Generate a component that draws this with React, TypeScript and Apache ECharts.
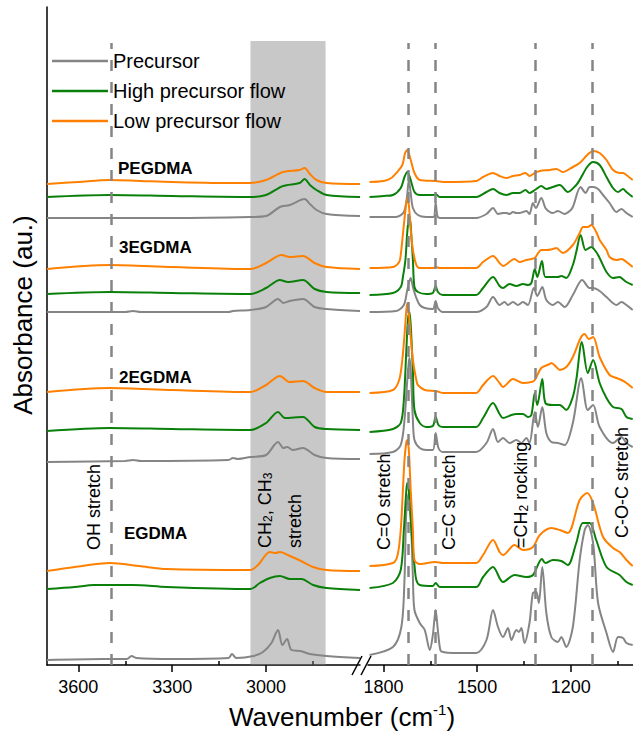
import React, { useEffect, useRef } from "react";
import * as echarts from "echarts";

const FONT = '"Liberation Sans", Arial, Helvetica, sans-serif';

// ---------- tick values ----------
const MAJOR_CH = [3600, 3300, 3000];
const MINOR_CH = [3450, 3150, 2850];
const MAJOR_FP = [1800, 1500, 1200];
const MINOR_FP = [1650, 1350, 1050];

// ---------- legend / series names ----------
const CONDITIONS = ["Precursor", "High precursor flow", "Low precursor flow"];
const COLORS = ["#858585", "#0a800a", "#ff8000"];

// ---------- marker wavenumbers ----------
const CH_BAND = [3050, 2810];
const OH_LINE = 3496;
const FP_LINES = [1720, 1633, 1314, 1132];
const BAND_TOP = 6.24;
const DASH_TOP = 6.22;

// ---------- spectra: [wavenumber, absorbance (au, offset)] ----------
// PEGDMA
const PEG_PRE_CH = [[3700,4.47],[3300,4.47],[3050,4.48],[3000,4.49],[2956,4.58],[2924,4.60],[2877,4.66],[2860,4.61],[2839,4.55],[2807,4.51],[2700,4.49]];
const PEG_HIGH_CH = [[3700,4.68],[3500,4.70],[3300,4.69],[3050,4.68],[3000,4.70],[2946,4.79],[2893,4.82],[2877,4.86],[2860,4.80],[2839,4.75],[2807,4.70],[2700,4.68]];
const PEG_LOW_CH = [[3700,4.81],[3600,4.83],[3500,4.85],[3400,4.84],[3300,4.83],[3100,4.82],[3050,4.82],[3000,4.85],[2946,4.93],[2893,4.95],[2877,4.97],[2860,4.91],[2839,4.85],[2807,4.82],[2700,4.81]];
const PEG_PRE_FP = [[1845,4.48],[1760,4.48],[1735,4.53],[1725,4.68],[1719,4.85],[1713,4.72],[1706,4.57],[1690,4.50],[1663,4.48],[1640,4.48],[1633,4.62],[1626,4.48],[1610,4.47],[1503,4.47],[1470,4.51],[1449,4.57],[1433,4.51],[1417,4.52],[1406,4.52],[1396,4.51],[1385,4.53],[1374,4.52],[1364,4.52],[1353,4.53],[1342,4.54],[1332,4.51],[1321,4.62],[1312,4.57],[1294,4.67],[1281,4.57],[1267,4.53],[1257,4.52],[1241,4.54],[1219,4.51],[1203,4.54],[1193,4.58],[1168,4.78],[1152,4.72],[1139,4.78],[1128,4.78],[1112,4.76],[1096,4.70],[1075,4.62],[1053,4.53],[1037,4.56],[1021,4.52],[1001,4.48]];
const PEG_HIGH_FP = [[1845,4.68],[1800,4.69],[1770,4.70],[1745,4.77],[1733,4.88],[1724,4.93],[1713,4.85],[1701,4.73],[1684,4.70],[1640,4.70],[1633,4.71],[1620,4.68],[1503,4.68],[1470,4.73],[1449,4.76],[1428,4.72],[1406,4.70],[1385,4.72],[1364,4.72],[1345,4.75],[1332,4.72],[1315,4.75],[1294,4.79],[1278,4.76],[1257,4.78],[1235,4.80],[1209,4.73],[1182,4.80],[1171,4.85],[1147,4.98],[1128,5.03],[1107,5.00],[1085,4.88],[1064,4.77],[1048,4.73],[1032,4.76],[1021,4.73],[1001,4.68]];
const PEG_LOW_FP = [[1845,4.83],[1800,4.84],[1775,4.87],[1759,4.92],[1740,5.00],[1731,5.12],[1724,5.15],[1713,5.05],[1701,4.92],[1684,4.85],[1633,4.84],[1600,4.83],[1503,4.84],[1481,4.88],[1449,4.92],[1428,4.89],[1406,4.87],[1385,4.89],[1364,4.90],[1345,4.92],[1332,4.89],[1315,4.92],[1299,4.94],[1267,4.95],[1246,4.96],[1225,4.93],[1193,4.98],[1171,5.02],[1147,5.10],[1128,5.14],[1107,5.12],[1085,5.05],[1064,4.95],[1043,4.92],[1032,4.92],[1021,4.90],[1001,4.85]];

// 3EGDMA
const E3_PRE_CH = [[3700,3.53],[3450,3.53],[3425,3.54],[3400,3.53],[3120,3.53],[3106,3.54],[3050,3.55],[3000,3.58],[2962,3.66],[2945,3.62],[2924,3.64],[2882,3.66],[2845,3.58],[2807,3.56],[2700,3.54]];
const E3_HIGH_CH = [[3700,3.71],[3500,3.73],[3300,3.72],[3050,3.71],[3000,3.77],[2956,3.85],[2930,3.83],[2882,3.85],[2845,3.76],[2807,3.73],[2700,3.72]];
const E3_LOW_CH = [[3700,3.96],[3500,4.00],[3300,3.98],[3050,3.96],[3000,4.02],[2951,4.10],[2924,4.08],[2882,4.09],[2845,4.02],[2807,3.98],[2700,3.96]];
const E3_PRE_FP = [[1845,3.53],[1760,3.54],[1735,3.60],[1724,3.75],[1713,3.87],[1706,3.78],[1695,3.67],[1684,3.60],[1668,3.57],[1642,3.56],[1633,3.64],[1626,3.57],[1610,3.53],[1503,3.53],[1470,3.58],[1449,3.68],[1428,3.60],[1412,3.63],[1401,3.60],[1385,3.63],[1369,3.60],[1353,3.63],[1337,3.60],[1318,3.77],[1307,3.69],[1291,3.78],[1278,3.65],[1257,3.60],[1241,3.63],[1219,3.58],[1193,3.70],[1163,3.85],[1139,3.77],[1128,3.77],[1107,3.74],[1085,3.68],[1053,3.60],[1037,3.63],[1021,3.60],[1001,3.55]];
const E3_HIGH_FP = [[1845,3.70],[1770,3.72],[1745,3.78],[1738,3.88],[1730,4.05],[1724,4.33],[1719,4.47],[1716,4.48],[1711,4.30],[1706,4.05],[1701,3.78],[1690,3.73],[1663,3.71],[1642,3.72],[1633,3.79],[1626,3.73],[1610,3.70],[1503,3.70],[1481,3.77],[1449,3.88],[1428,3.79],[1417,3.77],[1396,3.81],[1374,3.79],[1353,3.81],[1337,3.80],[1326,3.82],[1315,3.96],[1307,3.88],[1292,4.04],[1281,3.88],[1257,3.88],[1241,3.88],[1230,3.89],[1214,3.87],[1193,4.00],[1182,4.13],[1168,4.30],[1152,4.15],[1134,4.18],[1118,4.13],[1107,4.07],[1085,3.93],[1064,3.87],[1043,3.88],[1037,3.87],[1021,3.83],[1001,3.80]];
const E3_LOW_FP = [[1845,3.97],[1770,3.98],[1750,4.03],[1745,4.10],[1735,4.40],[1728,4.60],[1724,4.67],[1719,4.60],[1713,4.35],[1706,4.15],[1695,4.00],[1684,3.97],[1640,3.97],[1633,3.98],[1620,3.97],[1503,3.97],[1481,4.03],[1449,4.09],[1428,4.02],[1417,3.99],[1380,4.06],[1364,4.03],[1342,4.05],[1326,4.06],[1315,4.07],[1294,4.15],[1278,4.15],[1257,4.16],[1246,4.17],[1225,4.12],[1193,4.20],[1171,4.32],[1160,4.38],[1145,4.38],[1134,4.40],[1118,4.33],[1107,4.25],[1085,4.15],[1075,4.08],[1053,4.05],[1037,4.06],[1021,4.03],[1001,3.98]];

// 2EGDMA
const E2_PRE_CH = [[3700,2.03],[3450,2.04],[3425,2.05],[3400,2.04],[3120,2.05],[3106,2.07],[3090,2.06],[3050,2.08],[3000,2.10],[2962,2.23],[2945,2.17],[2932,2.18],[2915,2.15],[2882,2.17],[2845,2.10],[2807,2.07],[2700,2.06]];
const E2_HIGH_CH = [[3700,2.34],[3500,2.37],[3300,2.36],[3050,2.35],[3000,2.42],[2962,2.53],[2940,2.47],[2882,2.48],[2845,2.38],[2807,2.36],[2700,2.35]];
const E2_LOW_CH = [[3700,2.73],[3500,2.77],[3300,2.75],[3050,2.73],[3000,2.80],[2956,2.89],[2924,2.83],[2882,2.84],[2845,2.77],[2807,2.73],[2700,2.73]];
const E2_PRE_FP = [[1845,2.11],[1770,2.13],[1745,2.20],[1733,2.45],[1724,2.85],[1719,3.03],[1717,3.07],[1713,2.95],[1706,2.45],[1701,2.25],[1684,2.17],[1663,2.15],[1642,2.15],[1633,2.32],[1624,2.17],[1610,2.13],[1503,2.13],[1470,2.22],[1449,2.36],[1433,2.23],[1417,2.27],[1396,2.22],[1374,2.25],[1358,2.22],[1342,2.27],[1332,2.22],[1315,2.53],[1305,2.38],[1291,2.58],[1278,2.32],[1262,2.23],[1241,2.22],[1219,2.20],[1193,2.42],[1166,2.87],[1145,2.55],[1128,2.60],[1107,2.38],[1064,2.22],[1037,2.28],[1021,2.22],[1001,2.18]];
const E2_HIGH_FP = [[1845,2.33],[1770,2.36],[1745,2.42],[1735,2.65],[1727,3.15],[1722,3.45],[1717,3.53],[1713,3.40],[1706,2.95],[1701,2.55],[1684,2.42],[1663,2.38],[1642,2.39],[1633,2.48],[1624,2.40],[1610,2.38],[1503,2.38],[1481,2.47],[1449,2.62],[1428,2.51],[1417,2.47],[1390,2.50],[1374,2.51],[1353,2.51],[1337,2.48],[1326,2.50],[1315,2.72],[1307,2.60],[1291,2.86],[1281,2.62],[1257,2.60],[1235,2.60],[1214,2.55],[1193,2.68],[1182,2.85],[1164,3.23],[1145,2.92],[1128,3.05],[1107,2.82],[1085,2.67],[1064,2.58],[1037,2.56],[1021,2.48],[1001,2.46]];
const E2_LOW_FP = [[1845,2.72],[1770,2.75],[1750,2.85],[1740,3.05],[1733,3.30],[1727,3.55],[1724,3.62],[1719,3.52],[1713,3.28],[1706,3.05],[1695,2.85],[1690,2.80],[1668,2.75],[1633,2.74],[1610,2.72],[1503,2.72],[1481,2.80],[1449,2.89],[1428,2.82],[1417,2.78],[1385,2.86],[1353,2.82],[1326,2.83],[1315,2.85],[1294,2.97],[1267,3.01],[1262,3.02],[1246,2.98],[1235,2.95],[1214,2.98],[1193,3.08],[1168,3.27],[1155,3.31],[1142,3.26],[1128,3.28],[1107,3.08],[1075,2.90],[1053,2.87],[1037,2.85],[1021,2.82],[1001,2.77]];

// EGDMA
const E1_PRE_CH = [[3700,0.05],[3520,0.06],[3445,0.06],[3430,0.09],[3415,0.07],[3300,0.06],[3120,0.07],[3109,0.11],[3095,0.07],[3040,0.09],[3010,0.13],[2983,0.22],[2962,0.35],[2948,0.20],[2933,0.26],[2919,0.15],[2890,0.14],[2860,0.11],[2807,0.09],[2700,0.07]];
const E1_HIGH_CH = [[3700,0.76],[3612,0.78],[3550,0.80],[3425,0.80],[3318,0.78],[3050,0.76],[3020,0.82],[2988,0.87],[2956,0.89],[2924,0.86],[2887,0.86],[2850,0.80],[2807,0.77],[2700,0.75]];
const E1_LOW_CH = [[3700,0.94],[3612,0.98],[3500,1.02],[3405,0.99],[3318,0.96],[3050,0.95],[3026,1.00],[2988,1.13],[2970,1.12],[2956,1.13],[2924,1.09],[2895,1.05],[2850,0.98],[2807,0.95],[2700,0.94]];
const E1_PRE_FP = [[1845,0.10],[1770,0.18],[1743,0.38],[1733,0.85],[1727,1.55],[1719,1.72],[1713,1.52],[1706,0.88],[1701,0.55],[1684,0.42],[1668,0.35],[1652,0.15],[1642,0.30],[1633,0.55],[1626,0.35],[1618,0.15],[1610,0.13],[1578,0.12],[1503,0.12],[1470,0.25],[1449,0.55],[1433,0.38],[1417,0.28],[1401,0.37],[1390,0.25],[1374,0.35],[1366,0.33],[1358,0.37],[1348,0.22],[1332,0.42],[1321,0.72],[1310,0.73],[1302,0.62],[1291,0.98],[1278,0.52],[1262,0.28],[1241,0.23],[1230,0.28],[1214,0.18],[1193,0.38],[1171,1.05],[1155,1.35],[1145,1.40],[1128,1.22],[1112,0.62],[1085,0.32],[1064,0.13],[1048,0.28],[1032,0.27],[1021,0.22],[1001,0.20]];
const E1_HIGH_FP = [[1845,0.77],[1770,0.82],[1745,0.95],[1735,1.35],[1727,1.75],[1724,1.82],[1719,1.75],[1713,1.45],[1706,1.15],[1701,1.00],[1695,0.85],[1684,0.80],[1642,0.79],[1633,0.82],[1620,0.78],[1503,0.78],[1481,0.88],[1449,0.98],[1417,0.83],[1380,0.90],[1342,0.88],[1321,0.90],[1292,1.06],[1281,1.02],[1257,1.05],[1230,1.04],[1209,1.00],[1182,1.22],[1161,1.42],[1139,1.42],[1118,1.25],[1085,0.98],[1043,0.90],[1021,0.83],[1001,0.80]];
const E1_LOW_FP = [[1845,0.99],[1770,1.02],[1755,1.10],[1745,1.35],[1738,1.75],[1733,2.05],[1727,2.23],[1724,2.25],[1719,2.15],[1713,1.75],[1706,1.35],[1701,1.05],[1684,1.01],[1633,1.03],[1610,1.02],[1503,1.02],[1481,1.10],[1449,1.25],[1428,1.13],[1417,1.10],[1380,1.20],[1353,1.15],[1321,1.18],[1299,1.30],[1262,1.37],[1235,1.35],[1209,1.32],[1171,1.65],[1147,1.72],[1128,1.62],[1096,1.28],[1064,1.17],[1043,1.13],[1021,1.05],[1001,0.99]];

// grouped: [sample] -> per condition (Precursor, High, Low) -> [CH region, fingerprint region]
const SPECTRA = [
  [[PEG_PRE_CH, PEG_PRE_FP], [PEG_HIGH_CH, PEG_HIGH_FP], [PEG_LOW_CH, PEG_LOW_FP]],
  [[E3_PRE_CH, E3_PRE_FP], [E3_HIGH_CH, E3_HIGH_FP], [E3_LOW_CH, E3_LOW_FP]],
  [[E2_PRE_CH, E2_PRE_FP], [E2_HIGH_CH, E2_HIGH_FP], [E2_LOW_CH, E2_LOW_FP]],
  [[E1_PRE_CH, E1_PRE_FP], [E1_HIGH_CH, E1_HIGH_FP], [E1_LOW_CH, E1_LOW_FP]],
];

export default function App() {
  const ref = useRef<HTMLDivElement>(null);

  useEffect(() => {
    if (!ref.current) return;
    const chart = echarts.init(ref.current, null, { renderer: "svg" });

    const series: any[] = [];
    SPECTRA.forEach((sample) => {
      sample.forEach((pair, ci) => {
        pair.forEach((data, pi) => {
          series.push({
            type: "line",
            name: CONDITIONS[ci],
            xAxisIndex: pi,
            yAxisIndex: pi,
            data,
            symbol: "none",
            showSymbol: false,
            smooth: 0.3,
            silent: true,
            z: 2,
            lineStyle: { color: COLORS[ci], width: 2 },
            itemStyle: { color: COLORS[ci] },
          });
        });
      });
    });

    const dashStyle = { type: [11, 11], color: "#858585", width: 2.5 };
    series.push({
      type: "line",
      xAxisIndex: 0,
      yAxisIndex: 0,
      data: [],
      z: 5,
      silent: true,
      markArea: {
        silent: true,
        itemStyle: { color: "rgba(128,128,128,0.43)" },
        data: [[{ xAxis: CH_BAND[0], yAxis: 0 }, { xAxis: CH_BAND[1], yAxis: BAND_TOP }]],
      },
      markLine: {
        silent: true,
        symbol: ["none", "none"],
        label: { show: false },
        lineStyle: dashStyle,
        data: [[{ coord: [OH_LINE, 0] }, { coord: [OH_LINE, DASH_TOP] }]],
      },
    });
    series.push({
      type: "line",
      xAxisIndex: 1,
      yAxisIndex: 1,
      data: [],
      z: 5,
      silent: true,
      markLine: {
        silent: true,
        symbol: ["none", "none"],
        label: { show: false },
        lineStyle: dashStyle,
        data: FP_LINES.map((w) => [{ coord: [w, 0] }, { coord: [w, DASH_TOP] }]),
      },
    });

    const axisBase = (gridIndex: number, min: number, max: number, major: number[]) => ({
      type: "value",
      gridIndex,
      min,
      max,
      inverse: true,
      splitLine: { show: false },
      axisLine: { show: true, onZero: false, lineStyle: { color: "#000", width: 1.5 } },
      axisTick: { show: true, customValues: major, inside: false, length: 7, lineStyle: { color: "#000", width: 1.5 } },
      axisLabel: {
        show: true,
        customValues: major,
        fontSize: 18,
        color: "#000",
        fontFamily: FONT,
        margin: 13,
        formatter: (v: number) => String(Math.round(v)),
      },
    });
    const minorAxis = (gridIndex: number, min: number, max: number, minor: number[]) => ({
      type: "value",
      gridIndex,
      min,
      max,
      inverse: true,
      splitLine: { show: false },
      axisLine: { show: false },
      axisTick: { show: true, customValues: minor, inside: false, length: 4, lineStyle: { color: "#000", width: 1.5 } },
      axisLabel: { show: false },
    });

    const yBase = (gridIndex: number, show: boolean) => ({
      type: "value",
      gridIndex,
      min: 0,
      max: 6.58,
      show,
      splitLine: { show: false },
      axisTick: { show: false },
      axisLabel: { show: false },
      axisLine: { show, lineStyle: { color: "#000", width: 1.5 } },
    });

    const rotText = (text: string, x: number, y: number, fontSize: number, rich?: any) => ({
      type: "text",
      x,
      y,
      rotation: Math.PI / 2,
      silent: true,
      z: 20,
      style: {
        text,
        fontSize,
        fontFamily: FONT,
        fill: "#000",
        align: "left",
        textAlign: "left",
        verticalAlign: "middle",
        textVerticalAlign: "middle",
        rich,
      },
    });
    const sub = { s: { fontSize: 12, fontFamily: FONT, fill: "#000", verticalAlign: "bottom" } };

    const labelText = (text: string, x: number, y: number) => ({
      type: "text",
      x,
      y,
      silent: true,
      z: 20,
      style: {
        text,
        fontSize: 17,
        fontWeight: "bold",
        fontFamily: FONT,
        fill: "#000",
        align: "left",
        textAlign: "left",
        verticalAlign: "middle",
        textVerticalAlign: "middle",
      },
    });

    const option: any = {
      animation: false,
      backgroundColor: "#fff",
      textStyle: { fontFamily: FONT },
      grid: [
        { left: 47, right: 273, top: 7, bottom: 71, containLabel: false },
        { left: 368, right: 0, top: 7, bottom: 71, containLabel: false },
      ],
      xAxis: [
        axisBase(0, 2700, 3700, MAJOR_CH),
        axisBase(1, 1000, 1850, MAJOR_FP),
        minorAxis(0, 2700, 3700, MINOR_CH),
        minorAxis(1, 1000, 1850, MINOR_FP),
      ],
      yAxis: [yBase(0, true), yBase(1, false)],
      legend: {
        show: true,
        data: CONDITIONS.map((name) => ({ name, icon: "rect" })),
        orient: "vertical",
        left: 52,
        top: 49,
        padding: 0,
        itemWidth: 56,
        itemHeight: 2.5,
        itemGap: 6,
        selectedMode: false,
        textStyle: { fontSize: 20, color: "#000", fontFamily: FONT, lineHeight: 24 },
      },
      series,
      graphic: [
        // axis break marks
        { type: "line", silent: true, z: 20, shape: { x1: 352, y1: 675, x2: 362, y2: 656 }, style: { stroke: "#000", lineWidth: 1.5 } },
        { type: "line", silent: true, z: 20, shape: { x1: 361, y1: 675, x2: 371, y2: 656 }, style: { stroke: "#000", lineWidth: 1.5 } },
        // axis titles
        {
          type: "text",
          x: 342,
          y: 717,
          silent: true,
          style: {
            text: "Wavenumber (cm{sup|-1})",
            fontSize: 26,
            fontFamily: FONT,
            fill: "#000",
            align: "center",
            textAlign: "center",
            verticalAlign: "middle",
            textVerticalAlign: "middle",
            lineHeight: 30,
            rich: { sup: { fontSize: 15, fontFamily: FONT, fill: "#000", verticalAlign: "top", lineHeight: 30 } },
          },
        },
        {
          type: "text",
          x: 23,
          y: 315,
          rotation: Math.PI / 2,
          silent: true,
          style: {
            text: "Absorbance (au.)",
            fontSize: 26,
            fontFamily: FONT,
            fill: "#000",
            align: "center",
            textAlign: "center",
            verticalAlign: "middle",
            textVerticalAlign: "middle",
          },
        },
        // band annotations
        rotText("OH stretch", 94, 550, 18),
        rotText("CH{s|2}, CH{s|3}", 265, 548, 18, sub),
        rotText("stretch", 295, 548, 18),
        rotText("C=O stretch", 384, 550, 18),
        rotText("C=C stretch", 449, 550, 18),
        rotText("=CH{s|2} rocking", 521, 548, 18, sub),
        rotText("C-O-C stretch", 622, 538, 18),
        // sample labels
        labelText("PEGDMA", 118, 168),
        labelText("3EGDMA", 119, 247),
        labelText("2EGDMA", 119, 377),
        labelText("EGDMA", 124, 533),
      ],
    };

    chart.setOption(option);
    return () => chart.dispose();
  }, []);

  return (
    <div
      ref={ref}
      style={{ position: "fixed", left: 0, top: 0, width: 633, height: 736, background: "#fff" }}
    />
  );
}
